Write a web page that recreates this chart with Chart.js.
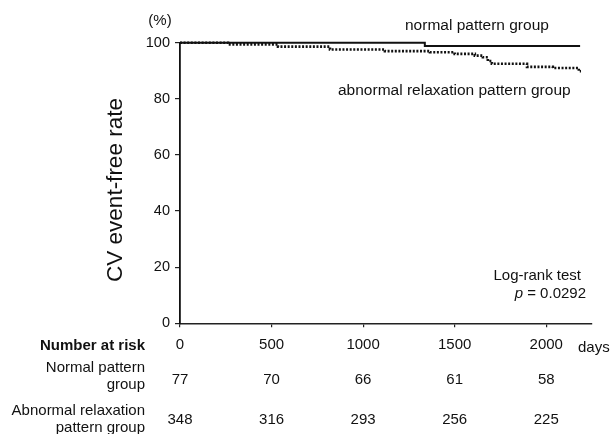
<!DOCTYPE html>
<html>
<head>
<meta charset="utf-8">
<script src="https://cdn.jsdelivr.net/npm/chart.js@4"></script>
<style>
html,body{margin:0;padding:0;background:#fff;}
canvas{display:block;}
</style>
</head>
<body>
<canvas id="c" width="611" height="434"></canvas>
<script>
// ---- data ----
const normalDays   = [0, 1337, 2185];
const normalRate   = [100, 98.8, 98.8];
const abnormalDays = [0, 262, 535, 819, 1119, 1365, 1500, 1610, 1654, 1681, 1703, 1895, 2036, 2178, 2190];
const abnormalRate = [100, 99.4, 98.6, 97.6, 97.0, 96.6, 96.0, 95.4, 94.8, 93.5, 92.5, 91.4, 91.0, 89.8, 89.8];
const riskTicks    = [0, 500, 1000, 1500, 2000];
const normalRisk   = [77, 70, 66, 61, 58];
const abnormalRisk = [348, 316, 293, 256, 225];
const yTicks       = [0, 20, 40, 60, 80, 100];

const FONT = "'Liberation Sans', Arial, Helvetica, sans-serif";
const toPts = (xs, ys) => xs.map((x, i) => ({x: x, y: ys[i]}));

const textPlugin = {
  id: 'texts',
  afterDraw(chart) {
    const ctx = chart.ctx;
    const xs = chart.scales.x;
    ctx.save();
    ctx.fillStyle = '#111';
    ctx.textBaseline = 'alphabetic';

    // y axis title
    ctx.save();
    ctx.font = '22.5px ' + FONT;
    ctx.textAlign = 'center';
    ctx.translate(122, 190);
    ctx.rotate(-Math.PI / 2);
    ctx.fillText('CV event-free rate', 0, 0);
    ctx.restore();

    // (%)
    ctx.font = '15px ' + FONT;
    ctx.textAlign = 'center';
    ctx.fillText('(%)', 160, 25);

    // series annotations
    ctx.textAlign = 'left';
    ctx.font = '15.5px ' + FONT;
    ctx.fillText('normal pattern group', 405, 29.5);
    ctx.fillText('abnormal relaxation pattern group', 338, 95);

    // log-rank
    ctx.font = '15px ' + FONT;
    ctx.textAlign = 'right';
    ctx.fillText('Log-rank test', 581, 279.5);
    const pRest = ' = 0.0292';
    const restW = ctx.measureText(pRest).width;
    ctx.fillText(pRest, 586, 297.5);
    ctx.font = 'italic 15px ' + FONT;
    ctx.fillText('p', 586 - restW, 297.5);

    // days
    ctx.font = '15px ' + FONT;
    ctx.textAlign = 'left';
    ctx.fillText('days', 578, 352);

    // risk table labels
    ctx.textAlign = 'right';
    ctx.font = 'bold 15px ' + FONT;
    ctx.fillText('Number at risk', 145, 350);
    ctx.font = '15px ' + FONT;
    ctx.fillText('Normal pattern', 145, 372);
    ctx.fillText('group', 145, 389);
    ctx.fillText('Abnormal relaxation', 145, 415);
    ctx.fillText('pattern group', 145, 432);

    // risk numbers
    ctx.textAlign = 'center';
    riskTicks.forEach((t, i) => {
      const px = xs.getPixelForValue(t);
      ctx.fillText(String(normalRisk[i]), px, 383.5);
      ctx.fillText(String(abnormalRisk[i]), px, 423.5);
    });
    ctx.restore();
  }
};

new Chart(document.getElementById('c'), {
  type: 'line',
  data: {
    datasets: [
      {
        label: 'normal pattern group',
        data: toPts(normalDays, normalRate),
        borderColor: '#111',
        borderWidth: 2,
        stepped: 'before',
        pointRadius: 0,
        fill: false,
        clip: false
      },
      {
        label: 'abnormal relaxation pattern group',
        data: toPts(abnormalDays, abnormalRate),
        borderColor: '#111',
        borderWidth: 2.6,
        borderDash: [2, 1.6],
        borderCapStyle: 'butt',
        stepped: 'before',
        pointRadius: 0,
        fill: false,
        clip: false
      }
    ]
  },
  options: {
    responsive: false,
    animation: false,
    events: [],
    layout: { padding: { top: 42.7, right: 19, bottom: 0, left: 0 } },
    plugins: { legend: { display: false }, tooltip: { enabled: false }, title: { display: false } },
    scales: {
      x: {
        type: 'linear',
        min: 0,
        max: 2250,
        afterFit(s) { s.height = 110.7; },
        afterBuildTicks(s) { s.ticks = riskTicks.map(v => ({value: v})); },
        ticks: {
          color: '#111',
          font: { family: FONT, size: 15 },
          padding: 9,
          maxRotation: 0,
          callback: v => String(v)
        },
        grid: { drawOnChartArea: false, drawTicks: true, tickLength: 4, color: '#222', lineWidth: 1.2 },
        border: { display: true, color: '#222', width: 1.6 }
      },
      y: {
        type: 'linear',
        min: 0,
        max: 100,
        afterFit(s) { s.width = 180; },
        afterBuildTicks(s) { s.ticks = yTicks.map(v => ({value: v})); },
        ticks: {
          color: '#111',
          font: { family: FONT, size: 14.5 },
          padding: 5,
          callback: v => String(v)
        },
        grid: { drawOnChartArea: false, drawTicks: true, tickLength: 5, color: '#222', lineWidth: 1.2 },
        border: { display: true, color: '#111', width: 1.8 }
      }
    }
  },
  plugins: [textPlugin]
});
</script>
</body>
</html>
